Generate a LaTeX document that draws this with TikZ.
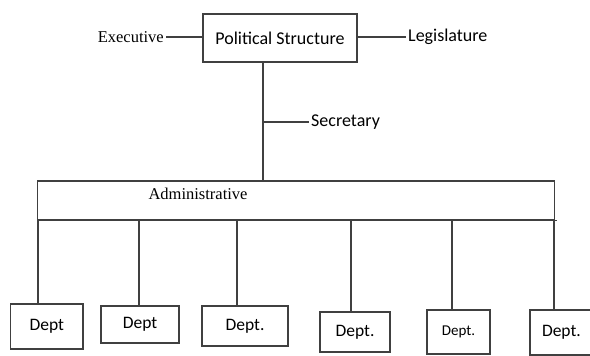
\documentclass[tikz,border=0pt]{standalone}
\usepackage{fontspec}
\setmainfont{Liberation Serif}
\newfontfamily\calfont{Carlito}
\begin{document}
\begin{tikzpicture}[x=1pt,y=-1pt,
  ln/.style={draw=black!75,line width=1.3pt},
  box/.style={ln,rectangle,inner sep=0pt,font=\calfont\fontsize{17.5}{20}\selectfont},
  sans/.style={inner sep=0pt,font=\calfont\fontsize{18}{21}\selectfont},
  serif/.style={inner sep=0pt,font=\fontsize{16.5}{19}\selectfont},
]
\clip (0,0) rectangle (590,356);
\fill[white] (0,0) rectangle (590,356);
% top
\node[box,minimum width=154pt,minimum height=48pt,font=\calfont\fontsize{18}{21}\selectfont] (ps) at (280,38) {Political Structure};
\node[serif,anchor=east] (exe) at (164,37) {Executive};
\node[sans,anchor=west] (leg) at (408,37) {Legislature};
\draw[ln] (exe.east) ++(2,0) -- (exe.east -| ps.west);
\draw[ln] (ps.east |- leg.west) -- ([xshift=-2pt]leg.west);
% vertical trunk
\coordinate (top) at (263,181);
\coordinate (sb) at (263,122);
\node[sans,anchor=west] (sec) at (311,122) {Secretary};
\draw[ln] (ps.south -| top) -- (top);
\draw[ln] (sb) -- ([xshift=-2pt]sb -| sec.west);
% administrative band
\node[ln,rectangle,inner sep=0pt,minimum width=517pt,minimum height=39pt] (adm) at (296,200.5) {};
\node[serif] (admtxt) at (198,194) {Administrative};
\draw[ln] (adm.south east) -- ++(2,0);
% departments
\node[box,minimum width=72.5pt,minimum height=45pt] (d1) at (46.75,326.5) {Dept};
\node[box,minimum width=78pt,minimum height=37pt] (d2) at (140,324.5) {Dept};
\node[box,minimum width=86pt,minimum height=40pt] (d3) at (245,326) {Dept.};
\node[box,minimum width=70pt,minimum height=40pt] (d4) at (355,332) {Dept.};
\node[box,minimum width=63pt,minimum height=44pt,font=\calfont\fontsize{15}{18}\selectfont] (d5) at (458.5,332) {Dept.};
\node[box,minimum width=80pt,minimum height=45pt,text width=60pt,align=left] (d6) at (570,332.5) {\hspace*{2pt}Dept.};
\foreach \i/\x in {1/38,2/139,3/237,4/351,5/452,6/554}{
  \coordinate (a\i) at (\x,220);
  \draw[ln] (a\i) -- (a\i |- d\i.north);
}
\end{tikzpicture}
\end{document}
